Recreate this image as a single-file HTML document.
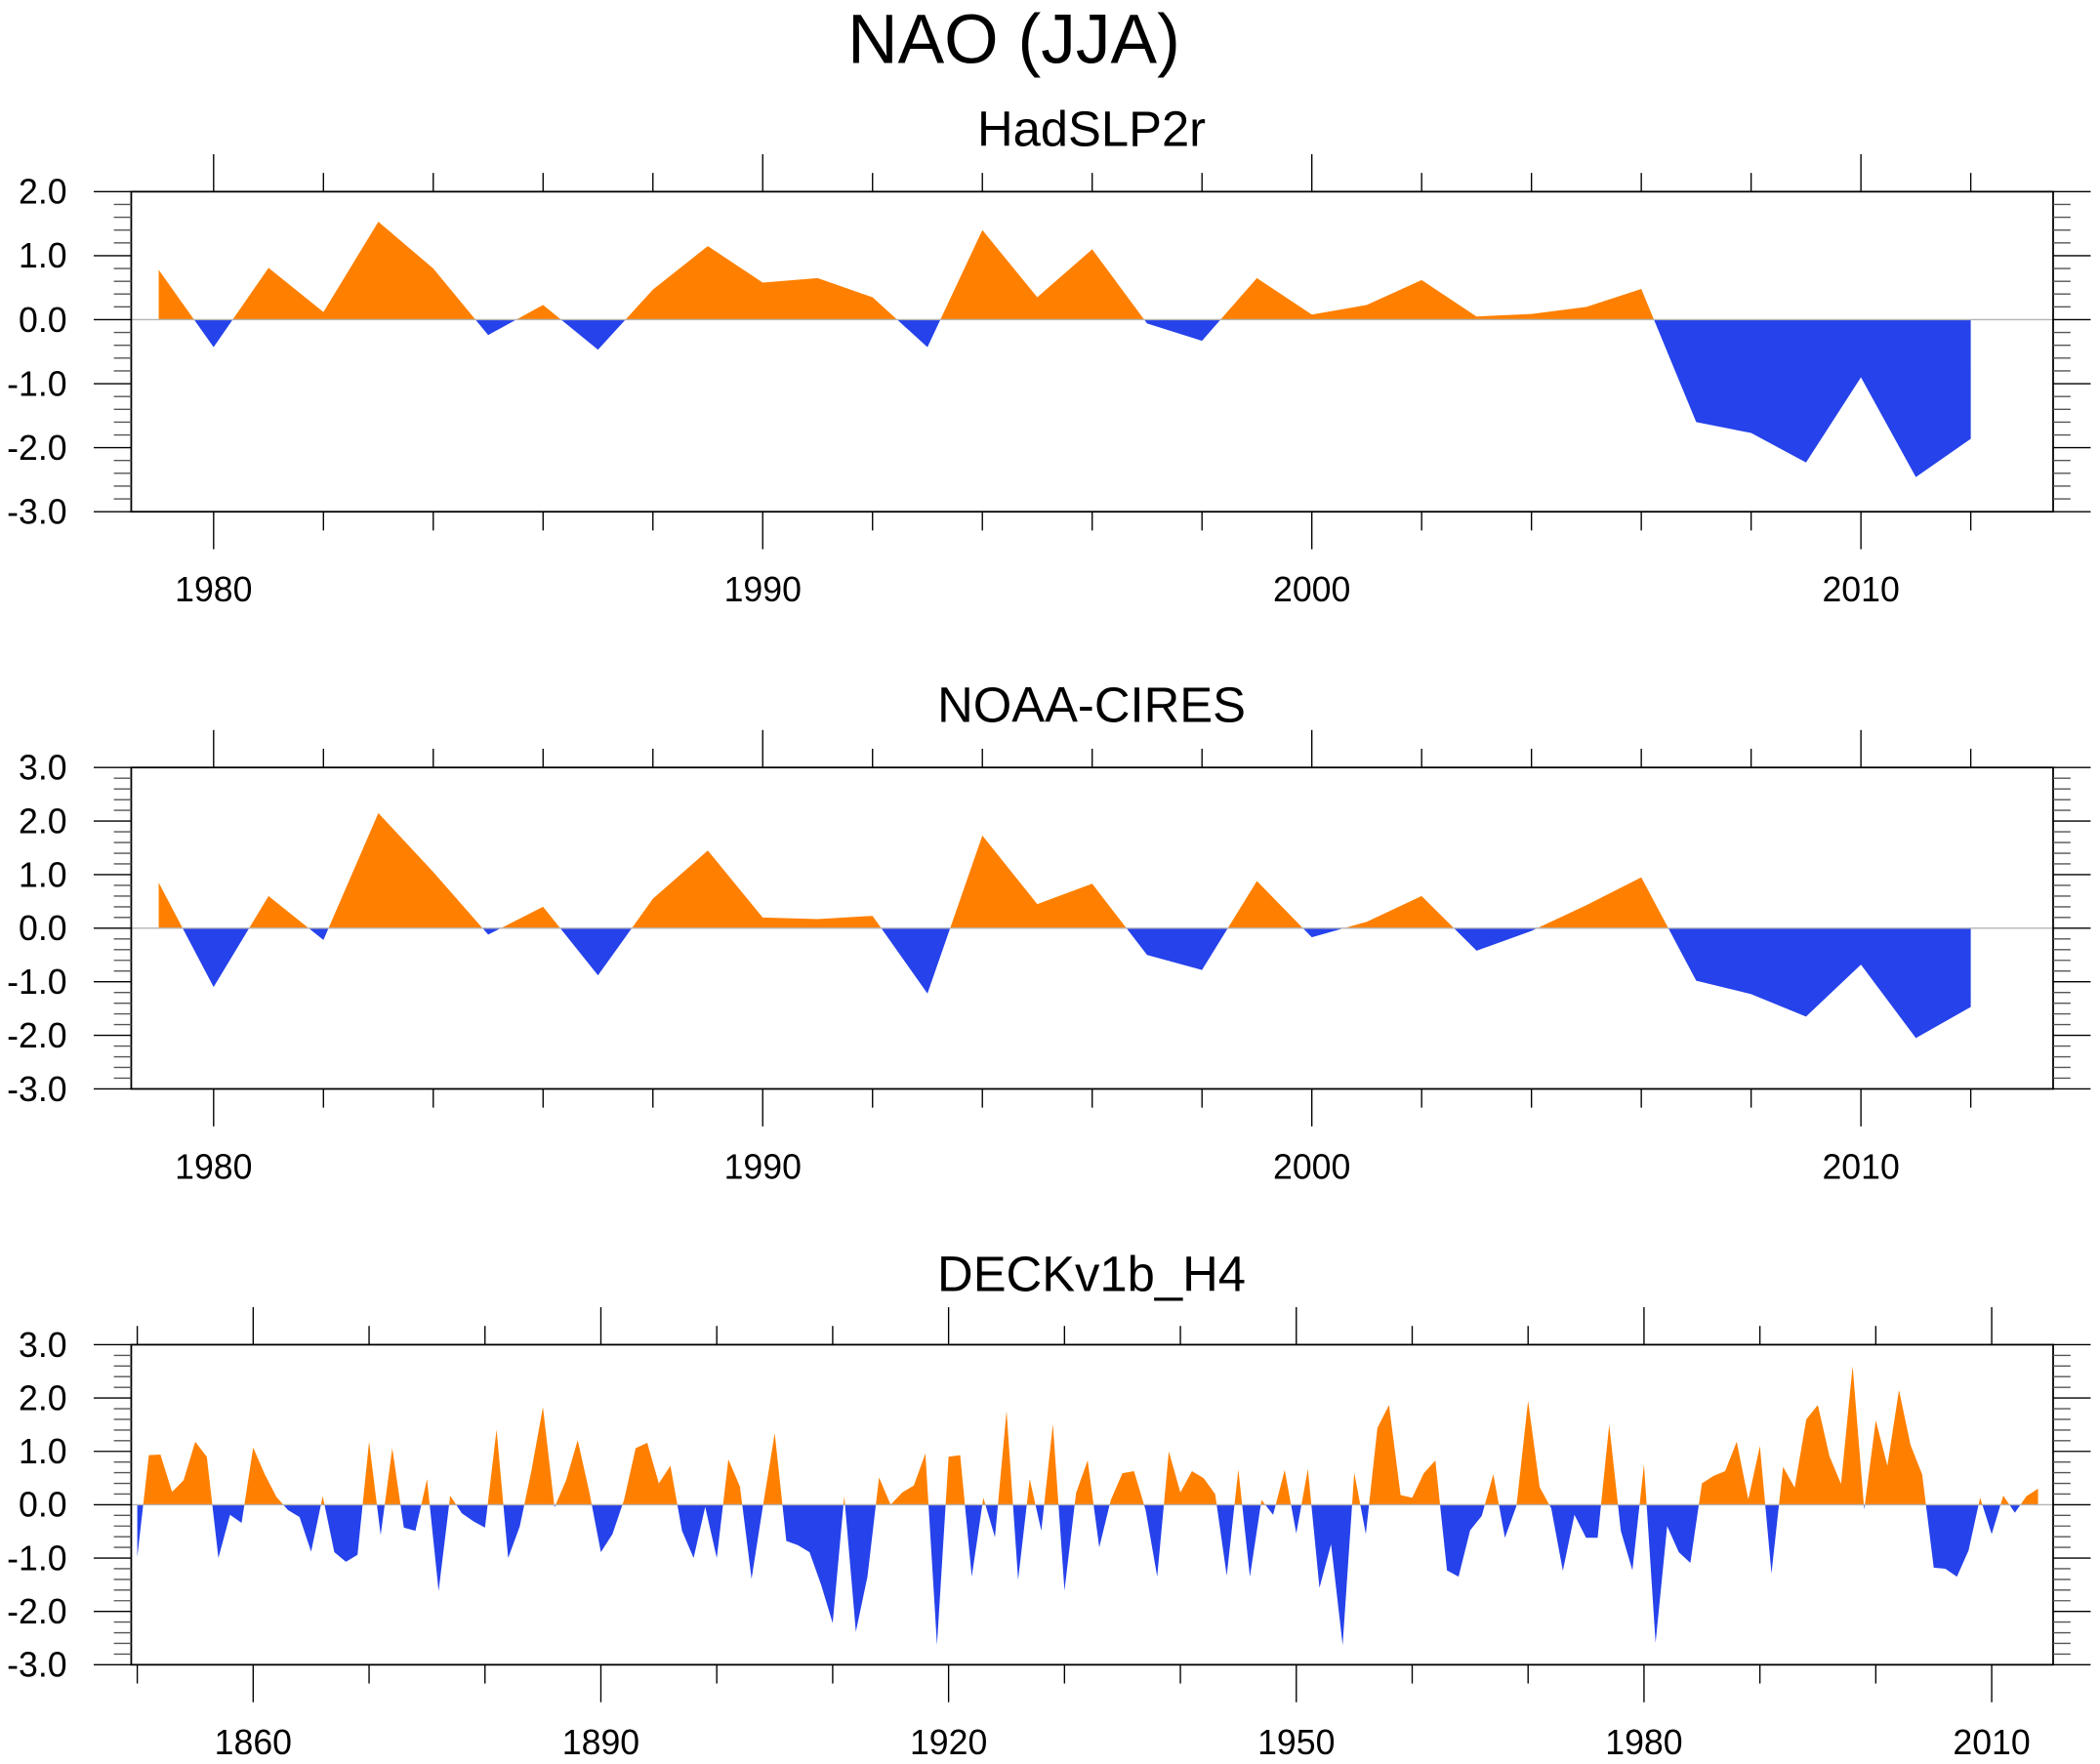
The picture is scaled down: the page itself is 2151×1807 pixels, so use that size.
<!DOCTYPE html>
<html><head><meta charset="utf-8"><style>
html,body{margin:0;padding:0;background:#fff;}
svg{display:block;font-family:"Liberation Sans",sans-serif;}
</style></head><body>
<svg id="chart" width="2151" height="1807" viewBox="0 0 1568 1317" xmlns="http://www.w3.org/2000/svg">
<text x="757" y="47" font-size="52" text-anchor="middle">NAO (JJA)</text>
</svg>
<script>
const hadYears = [1979,1980,1981,1982,1983,1984,1985,1986,1987,1988,1989,1990,1991,1992,1993,1994,1995,1996,1997,1998,1999,2000,2001,2002,2003,2004,2005,2006,2007,2008,2009,2010,2011,2012];
const hadValues = [0.78,-0.43,0.81,0.12,1.53,0.8,-0.24,0.23,-0.47,0.47,1.15,0.58,0.65,0.35,-0.43,1.4,0.35,1.1,-0.06,-0.33,0.65,0.08,0.23,0.62,0.05,0.09,0.2,0.48,-1.6,-1.77,-2.23,-0.9,-2.46,-1.86];
const noaaYears = hadYears;
const noaaValues = [0.85,-1.1,0.6,-0.22,2.15,1.05,-0.12,0.4,-0.88,0.55,1.45,0.2,0.17,0.23,-1.22,1.73,0.45,0.83,-0.5,-0.78,0.88,-0.17,0.12,0.6,-0.42,-0.05,0.43,0.95,-0.98,-1.23,-1.65,-0.68,-2.05,-1.47];
const deckStartYear = 1850;
const deckValues = [-0.98,0.93,0.94,0.24,0.46,1.18,0.9,-1.0,-0.19,-0.34,
1.07,0.57,0.15,-0.1,-0.23,-0.88,0.16,-0.89,-1.07,-0.94,
1.18,-0.57,1.06,-0.43,-0.49,0.48,-1.62,0.17,-0.16,-0.31,
-0.43,1.41,-1.0,-0.41,0.63,1.83,-0.05,0.46,1.21,0.24,
-0.89,-0.55,0.09,1.06,1.16,0.4,0.73,-0.49,-1.0,-0.04,
-1.0,0.85,0.34,-1.39,0.0,1.34,-0.68,-0.76,-0.89,-1.5,
-2.22,0.16,-2.38,-1.35,0.51,0.0,0.23,0.36,0.96,-2.63,
0.9,0.93,-1.35,0.13,-0.61,1.76,-1.41,0.48,-0.49,1.51,
-1.61,0.22,0.83,-0.8,0.09,0.59,0.63,-0.1,-1.35,1.0,
0.23,0.63,0.5,0.2,-1.33,0.66,-1.35,0.09,-0.19,0.65,
-0.54,0.67,-1.56,-0.74,-2.63,0.6,-0.55,1.44,1.87,0.18,
0.13,0.59,0.83,-1.23,-1.35,-0.48,-0.21,0.57,-0.62,-0.02,
1.95,0.33,-0.07,-1.24,-0.19,-0.62,-0.62,1.5,-0.49,-1.23,
0.76,-2.59,-0.4,-0.89,-1.09,0.4,0.54,0.63,1.18,0.1,
1.1,-1.29,0.71,0.32,1.6,1.87,0.91,0.39,2.6,-0.09,
1.58,0.73,2.15,1.12,0.57,-1.18,-1.2,-1.35,-0.86,0.13,
-0.55,0.17,-0.15,0.16,0.3];
const deckYears = deckValues.map((v,i)=>deckStartYear+i);
const yTicksA = [2,1,0,-1,-2,-3];
const yTicksB = [3,2,1,0,-1,-2,-3];
const xTicksA = [1980,1990,2000,2010];
const xTicksB = [1860,1890,1920,1950,1980,2010];

const NS="http://www.w3.org/2000/svg";
const svg=document.getElementById('chart');
function mk(tag,attrs,parent){const e=document.createElementNS(NS,tag);for(const k in attrs)e.setAttribute(k,attrs[k]);(parent||svg).appendChild(e);return e;}

function panel(id,title,titleY,top,bottom,ymin,ymax,xmin,xmax,years,vals,yticks,xticks,majorStep,minorStep,labelY){
  const L=98,R=1533;
  const xs=v=>L+(v-xmin)/(xmax-xmin)*(R-L);
  const ys=v=>bottom-(v-ymin)/(ymax-ymin)*(bottom-top);
  const g=mk('g',{});
  
  
  const t=mk('text',{x:815,y:titleY,'font-size':37,'text-anchor':'middle'},g);
  t.textContent=title;
  
  
  const y0=ys(0);
  let d='M'+xs(years[0])+','+y0;
  years.forEach((yr,i)=>{d+=' L'+xs(yr).toFixed(2)+','+ys(vals[i]).toFixed(2);});
  d+=' L'+xs(years[years.length-1])+','+y0+' Z';
  const cpA=mk('clipPath',{id:id+'-above'},g);mk('rect',{x:0,y:0,width:1568,height:y0},cpA);
  const cpB=mk('clipPath',{id:id+'-below'},g);mk('rect',{x:0,y:y0,width:1568,height:1317},cpB);
  const pos=mk('path',{d:d,fill:'#ff8000','clip-path':'url(#'+id+'-above)'},g);
  
  
  const neg=mk('path',{d:d,fill:'#2642eb','clip-path':'url(#'+id+'-below)'},g);
  
  
  const zl=mk('line',{x1:L,x2:R,y1:y0,y2:y0,stroke:'#b4b4b4','stroke-width':1},g);
  
  
  const fr=mk('rect',{x:L,y:top,width:R-L,height:bottom-top,fill:'none',stroke:'#000','stroke-width':1.3},g);
  
  
  for(let v=ymin;v<=ymax+1e-6;v+=0.2){
    const y=ys(v);const major=Math.abs(v-Math.round(v))<1e-6;
    const len=major?28:13;
    mk('line',{x1:L-len,x2:L,y1:y,y2:y,stroke:major?'#000':'#555','stroke-width':1},g);
    mk('line',{x1:R,x2:R+len,y1:y,y2:y,stroke:major?'#000':'#555','stroke-width':1},g);
  }
  yticks.forEach(v=>{const tx=mk('text',{x:50,y:ys(v)+9,'font-size':26,'text-anchor':'end'},g);tx.textContent=v.toFixed(1);
    
    });
  const start=Math.ceil(xmin/minorStep)*minorStep;
  for(let v=start;v<=xmax;v+=minorStep){
    const x=xs(v);const major=v%majorStep===0;const len=major?28:14;
    mk('line',{x1:x,x2:x,y1:top-len,y2:top,stroke:'#000','stroke-width':1},g);
    mk('line',{x1:x,x2:x,y1:bottom,y2:bottom+len,stroke:'#000','stroke-width':1},g);
  }
  xticks.forEach(v=>{const tx=mk('text',{x:xs(v),y:labelY,'font-size':26,'text-anchor':'middle'},g);tx.textContent=v;
    
    });
}
panel('hadslp2r','HadSLP2r',109,143,382,-3,2,1978.5,2013.5,hadYears,hadValues,yTicksA,xTicksA,10,2,449);
panel('noaa-cires','NOAA-CIRES',539,573,813,-3,3,1978.5,2013.5,noaaYears,noaaValues,yTicksB,xTicksA,10,2,880);
panel('deckv1b-h4','DECKv1b_H4',964,1004,1243,-3,3,1849.48,2015.3,deckYears,deckValues,yTicksB,xTicksB,30,10,1310);
</script>
</body></html>
